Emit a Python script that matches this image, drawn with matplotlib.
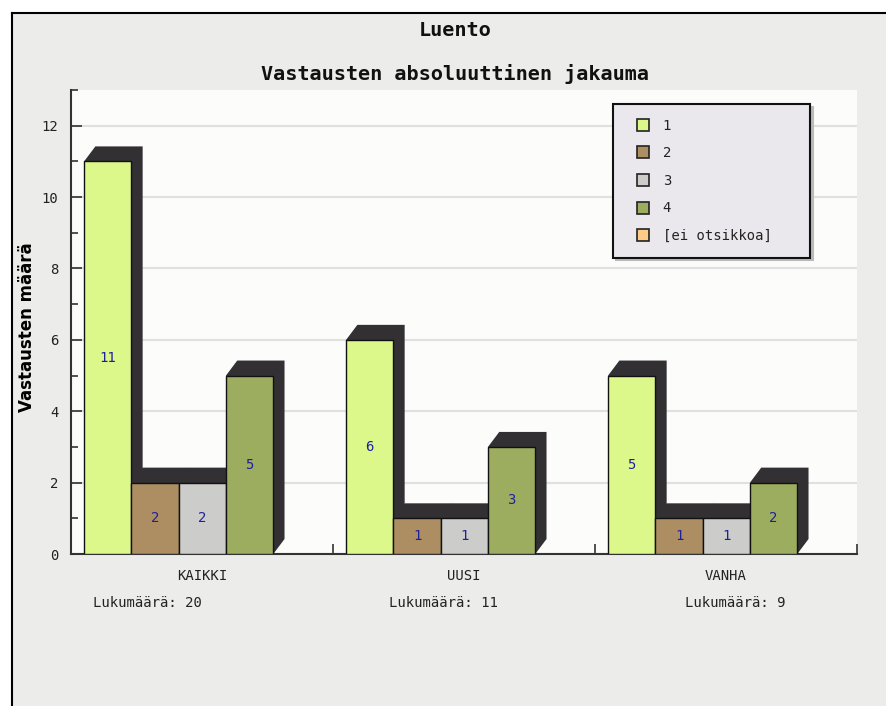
#%% Import libraries
import numpy as np
import matplotlib
matplotlib.use('Agg')
import matplotlib.pyplot as plt
from matplotlib.patches import Polygon, Patch, Rectangle
from matplotlib.legend_handler import HandlerPatch
import matplotlib.transforms as mtransforms

#%% Plot parameters
plt.rcdefaults()
params = {
    'font.family': 'DejaVu Sans Mono',
    'font.size': 10,
    'axes.linewidth': 1.5,
    'axes.edgecolor': '#333333',
    'xtick.color': '#333333',
    'ytick.color': '#333333',
    'xtick.labelcolor': '#222222',
    'ytick.labelcolor': '#222222',
}
plt.rcParams.update(params)

#%% Input data
groups = ['KAIKKI', 'UUSI', 'VANHA']
series = ['1', '2', '3', '4', '[ei otsikkoa]']
values = [
    [11, 2, 2, 5],   # KAIKKI
    [6, 1, 1, 3],    # UUSI
    [5, 1, 1, 2],    # VANHA
]
counts = [20, 11, 9]
colors = ['#DCF78A', '#AD8E62', '#CCCDCA', '#9CAD60', '#FFCC88']
yticks = [0, 2, 4, 6, 8, 10, 12]

#%% Figure and frame
fig = plt.figure(figsize=(8.87, 7.06), dpi=100)
fig.patch.set_facecolor('white')
W, H = 887, 706
# grey panel with black top/left border
fig.patches.append(Rectangle((12 / W, 0), 1, 1 - 13 / H, transform=fig.transFigure,
                             facecolor='#ECECEA', edgecolor='none', zorder=-10))
fig.add_artist(plt.Line2D([12 / W, 12 / W], [0, 1 - 13 / H], transform=fig.transFigure,
                          color='black', lw=1.5))
fig.add_artist(plt.Line2D([12 / W, 1], [1 - 13 / H, 1 - 13 / H], transform=fig.transFigure,
                          color='black', lw=1.5))

ax = fig.add_axes([71 / W, (H - 554) / H, (857 - 71) / W, (554 - 90) / H])
ax.set_facecolor('#FCFCFB')
ax.set_xlim(0, 3)
ax.set_ylim(0, 13)

#%% 3D-ish bars
bar_w = 0.1805
start = 0.05
dx = 0.043   # shadow depth in x (data units)
dy = 0.42    # shadow depth in y (data units)

for g, vals in enumerate(values):
    for i, v in enumerate(vals):
        x0 = g + start + i * bar_w
        x1 = x0 + bar_w
        if v > 0:
            shadow = Polygon([(x0, v), (x0 + dx, v + dy), (x1 + dx, v + dy),
                              (x1 + dx, dy), (x1, 0)],
                             closed=True, facecolor='#333033', edgecolor='none', zorder=2)
            ax.add_patch(shadow)
    bars = ax.bar([g + start + i * bar_w for i in range(len(vals))], vals, width=bar_w,
                  align='edge', color=colors[:len(vals)], edgecolor='#111111',
                  linewidth=1.0, zorder=3)
    for i, v in enumerate(vals):
        ax.text(g + start + (i + 0.5) * bar_w, v / 2, str(v), ha='center', va='center',
                color='#1F1F9C', fontsize=10, zorder=4)

#%% Axes styling
for s in ['top', 'right']:
    ax.spines[s].set_visible(False)
ax.yaxis.grid(True, color='#E0E0E0', lw=1.5, zorder=0)
ax.set_axisbelow(True)
ax.set_yticks(yticks)
ax.set_yticks(np.arange(1, 14, 2), minor=True)
ax.tick_params(axis='y', which='major', direction='in', length=8, width=1.2, pad=9,
               labelsize=10)
ax.tick_params(axis='y', which='minor', direction='in', length=5, width=1.2)

ax.set_xticks([0, 1, 2, 3])
ax.set_xticklabels([])
ax.set_xticks([g + 0.5 for g in range(len(groups))], minor=True)
ax.set_xticklabels(groups, minor=True)
ax.tick_params(axis='x', which='major', direction='in', length=7, width=1.2)
ax.tick_params(axis='x', which='minor', length=0, pad=11, labelsize=10)

# counts below the groups
trans = mtransforms.blended_transform_factory(ax.transData, ax.transAxes)
for g, c in enumerate(counts):
    ax.text(0.084 + g * 1.13, -0.106, f'Lukumäärä: {c}', transform=trans,
            ha='left', va='center', fontsize=10, color='#222222')

#%% Titles and labels
fig.text(455 / W, 1 - 31 / H, 'Luento', ha='center', va='center', fontsize=14.5,
         fontweight='bold', color='#111111')
fig.text(455 / W, 1 - 74 / H, 'Vastausten absoluuttinen jakauma', ha='center',
         va='center', fontsize=14.5, fontweight='bold', color='#111111')
fig.text(27 / W, 1 - 327 / H, 'Vastausten määrä', rotation=90, ha='center', va='center',
         fontsize=12, fontweight='bold', family='DejaVu Sans')


#%% Legend
# square swatch pushed to the right end of the handle box
def square_patch(legend, orig_handle, xdescent, ydescent, width, height, fontsize):
    return Rectangle((-xdescent + width - height, -ydescent), height, height)


handles = [Patch(facecolor=c, edgecolor='#222222', linewidth=1.2, label=s)
           for c, s in zip(colors, series)]
leg = ax.legend(handles=handles, loc='upper left',
                bbox_to_anchor=(613 / W, 1 - 259 / H, (810 - 613) / W, (259 - 104) / H),
                bbox_transform=fig.transFigure, mode='expand', fontsize=10,
                handler_map={Patch: HandlerPatch(patch_func=square_patch)},
                handlelength=1.52, handleheight=0.95, handletextpad=1.0,
                labelspacing=0.98, borderpad=1.05, borderaxespad=0,
                fancybox=False, framealpha=1, facecolor='#EAE8EC', edgecolor='#111111',
                shadow={'color': '#BBBBBB', 'alpha': 1})
leg.get_frame().set_linewidth(1.5)
for t in leg.get_texts():
    t.set_color('#222222')
leg.set_zorder(10)

plt.savefig('out.png', dpi=100)
plt.close()
